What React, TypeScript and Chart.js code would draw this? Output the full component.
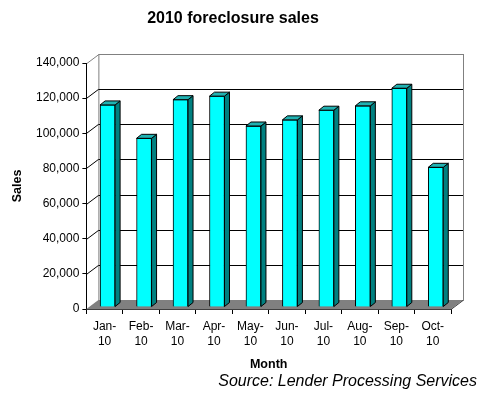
import React, { useEffect, useRef } from "react";
import { Chart, registerables } from "chart.js";

Chart.register(...registerables);

const months = ["Jan-", "Feb-", "Mar-", "Apr-", "May-", "Jun-", "Jul-", "Aug-", "Sep-", "Oct-"];
const yearSuffix = "10";
const sales = [115000, 96000, 118000, 120000, 103000, 106500, 112000, 114500, 124500, 79500];
const yMin = 0;
const yMax = 140000;
const yStep = 20000;
const titleText = "2010 foreclosure sales";
const sourceText = "Source: Lender Processing Services";

const FONT = "Arial, 'Liberation Sans', sans-serif";

// depth of the 3D box (back wall offset), bar depth placement, bar thickness depth
const DX = 12, DY = -9;
const BX = 3, BY = -2;
const SX = 5, SY = -4;

const threeD = {
  id: "threeD",
  beforeDatasetsDraw(chart: any) {
    const { ctx, chartArea } = chart;
    const ys = chart.scales.y;
    const { left, right, top, bottom } = chartArea;
    ctx.save();
    // back wall
    ctx.fillStyle = "#ffffff";
    ctx.fillRect(left + DX, top + DY, right - left, bottom - top);
    ctx.strokeStyle = "#808080";
    ctx.lineWidth = 1;
    ctx.strokeRect(left + DX + 0.5, top + DY + 0.5, right - left, bottom - top);
    // gridlines on back wall and left wall
    ctx.strokeStyle = "#000000";
    for (let v = yMin + yStep; v < yMax; v += yStep) {
      const py = Math.round(ys.getPixelForValue(v)) + 0.5;
      ctx.beginPath();
      ctx.moveTo(left, py);
      ctx.lineTo(left + DX, py + DY);
      ctx.lineTo(right + DX, py + DY);
      ctx.stroke();
    }
    // left wall top edge
    ctx.strokeStyle = "#808080";
    ctx.beginPath();
    ctx.moveTo(left + 0.5, top + 0.5);
    ctx.lineTo(left + DX + 0.5, top + DY + 0.5);
    ctx.stroke();
    // floor
    ctx.fillStyle = "#808080";
    ctx.beginPath();
    ctx.moveTo(left, bottom);
    ctx.lineTo(right, bottom);
    ctx.lineTo(right + DX, bottom + DY);
    ctx.lineTo(left + DX, bottom + DY);
    ctx.closePath();
    ctx.fill();
    ctx.strokeStyle = "#404040";
    ctx.beginPath();
    ctx.moveTo(left, bottom + 0.5);
    ctx.lineTo(right, bottom + 0.5);
    ctx.lineTo(right + DX, bottom + DY + 0.5);
    ctx.stroke();
    ctx.restore();

    ctx.save();
    ctx.translate(BX, BY);
  },
  afterDatasetsDraw(chart: any) {
    const { ctx } = chart;
    const meta = chart.getDatasetMeta(0);
    ctx.lineWidth = 1;
    ctx.strokeStyle = "#000000";
    meta.data.forEach((bar: any) => {
      const { x, y, base, width } = bar.getProps(["x", "y", "base", "width"], true);
      const l = x - width / 2;
      const r = x + width / 2;
      // side face
      ctx.fillStyle = "#008080";
      ctx.beginPath();
      ctx.moveTo(r, y);
      ctx.lineTo(r + SX, y + SY);
      ctx.lineTo(r + SX, base + SY);
      ctx.lineTo(r, base);
      ctx.closePath();
      ctx.fill();
      ctx.stroke();
      // top face
      ctx.fillStyle = "#20B2B2";
      ctx.beginPath();
      ctx.moveTo(l, y);
      ctx.lineTo(r, y);
      ctx.lineTo(r + SX, y + SY);
      ctx.lineTo(l + SX, y + SY);
      ctx.closePath();
      ctx.fill();
      ctx.stroke();
    });
    ctx.restore();
  },
  afterDraw(chart: any) {
    const { ctx } = chart;
    ctx.save();
    ctx.fillStyle = "#000000";
    ctx.textBaseline = "middle";
    ctx.font = "bold 16px " + FONT;
    ctx.textAlign = "center";
    ctx.fillText(titleText, 233, 19);
    ctx.font = "italic 16px " + FONT;
    ctx.textAlign = "right";
    ctx.fillText(sourceText, 477, 382);
    ctx.restore();
  },
};

export default function App() {
  const ref = useRef<HTMLCanvasElement | null>(null);
  useEffect(() => {
    if (!ref.current) return;
    const chart = new Chart(ref.current, {
      type: "bar",
      data: {
        labels: months.map((m) => [m, yearSuffix]),
        datasets: [
          {
            data: sales,
            backgroundColor: "#00FFFF",
            borderColor: "#000000",
            borderWidth: 1,
            barThickness: 15,
            clip: false as any,
          },
        ],
      },
      options: {
        animation: false,
        responsive: false,
        maintainAspectRatio: false,
        layout: { padding: { left: 0, right: 38, top: 63, bottom: 21 } },
        plugins: {
          legend: { display: false },
          tooltip: { enabled: false },
          title: { display: false },
        },
        scales: {
          x: {
            grid: { display: true, drawOnChartArea: false, offset: true, tickLength: 5, color: "#000000" },
            border: { display: true, color: "#000000" },
            ticks: { color: "#000000", font: { family: FONT, size: 12, lineHeight: 1.25 }, padding: 5, maxRotation: 0, autoSkip: false },
            title: {
              display: true,
              text: "Month",
              color: "#000000",
              font: { family: FONT, size: 12.5, weight: "bold" },
              padding: { top: 3, bottom: 0 },
            },
          },
          y: {
            min: yMin,
            max: yMax,
            grid: { display: true, drawOnChartArea: false, tickLength: 4, color: "#000000" },
            border: { display: true, color: "#000000" },
            ticks: {
              stepSize: yStep,
              color: "#000000",
              padding: 3,
              font: { family: FONT, size: 12 },
              callback: (v: any) => Number(v).toLocaleString("en-US"),
            },
            title: {
              display: true,
              text: "Sales",
              color: "#000000",
              font: { family: FONT, size: 12.5, weight: "bold" },
              padding: { top: 10, bottom: 8 },
            },
          },
        },
      },
      plugins: [threeD],
    });
    return () => chart.destroy();
  }, []);
  return (
    <div style={{ position: "absolute", left: 0, top: 0, width: 489, height: 393, background: "#ffffff" }}>
      <canvas ref={ref} width={489} height={393} />
    </div>
  );
}
